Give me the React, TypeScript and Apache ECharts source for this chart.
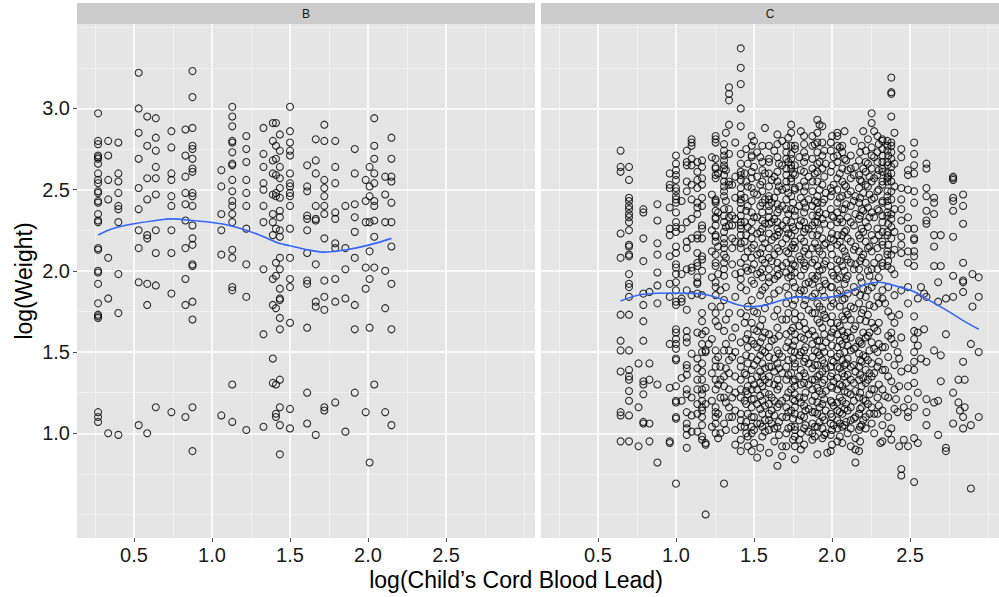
import { useEffect, useRef } from "react";
import * as echarts from "echarts";

// Facet labels and axis breaks
const panelNames = ["B", "C"];
const xMajor = [0.5, 1.0, 1.5, 2.0, 2.5];
const xMinor = [0.25, 0.75, 1.25, 1.75, 2.25, 2.75, 3.0];
const yMajor = [1.0, 1.5, 2.0, 2.5, 3.0];
const yMinor = [0.5, 0.75, 1.25, 1.75, 2.25, 2.75, 3.25, 3.5];
const xLimits = [0.135, 3.07];
const yLimits = [0.355, 3.52];

// Panel B: log(lead) columns and the log(weight) values observed in each
const panelBX = [0.27, 0.335, 0.4, 0.53, 0.585, 0.64, 0.74, 0.83, 0.875, 1.06, 1.13, 1.22, 1.33, 1.39, 1.41, 1.435, 1.5, 1.61, 1.665, 1.72, 1.79, 1.855, 1.915, 1.985, 2.01, 2.04, 2.11, 2.15];
const panelBY = [
  [2.97, 2.8, 2.78, 2.71, 2.7, 2.69, 2.66, 2.6, 2.56, 2.54, 2.49, 2.48, 2.43, 2.42, 2.35, 2.31, 2.3, 2.14, 2.13, 2.0, 1.99, 1.92, 1.8, 1.73, 1.72, 1.71, 1.13, 1.1, 1.07],
  [2.8, 2.71, 2.56, 2.44, 2.08, 1.83, 1.0],
  [2.79, 2.6, 2.55, 2.48, 2.4, 2.38, 2.3, 1.98, 1.74, 0.99],
  [3.22, 3.0, 2.85, 2.69, 2.51, 2.38, 2.25, 2.14, 1.93, 1.05],
  [2.95, 2.77, 2.57, 2.44, 2.22, 2.2, 1.92, 1.79, 1.0],
  [2.94, 2.82, 2.74, 2.64, 2.57, 2.47, 2.25, 2.11, 1.91, 1.16],
  [2.86, 2.76, 2.6, 2.56, 2.46, 2.4, 2.25, 2.11, 1.86, 1.13],
  [2.87, 2.71, 2.58, 2.48, 2.41, 2.31, 2.14, 1.95, 1.79, 1.1],
  [3.23, 3.07, 2.88, 2.77, 2.75, 2.69, 2.63, 2.61, 2.48, 2.46, 2.4, 2.28, 2.2, 2.16, 2.04, 2.03, 1.81, 1.7, 1.16, 0.89],
  [2.62, 2.52, 2.35, 2.25, 2.1, 1.11],
  [3.01, 2.95, 2.89, 2.8, 2.79, 2.73, 2.66, 2.65, 2.56, 2.49, 2.43, 2.4, 2.35, 2.3, 2.13, 2.08, 1.9, 1.88, 1.3, 1.07],
  [2.83, 2.75, 2.67, 2.56, 2.48, 2.4, 2.26, 2.04, 1.84, 1.02],
  [2.88, 2.72, 2.64, 2.54, 2.5, 2.4, 2.3, 2.01, 1.61, 1.04],
  [2.91, 2.8, 2.68, 2.6, 2.47, 2.35, 2.3, 2.22, 1.95, 1.79, 1.46, 1.31],
  [2.91, 2.77, 2.69, 2.59, 2.48, 2.46, 2.26, 2.05, 1.97, 1.77, 1.3, 1.12, 1.1],
  [2.84, 2.74, 2.64, 2.57, 2.51, 2.45, 2.37, 2.33, 2.25, 2.21, 2.08, 2.01, 1.89, 1.83, 1.82, 1.71, 1.64, 1.33, 1.16, 1.05, 0.87],
  [3.01, 2.86, 2.79, 2.74, 2.71, 2.6, 2.54, 2.52, 2.48, 2.46, 2.4, 2.26, 2.08, 1.95, 1.9, 1.68, 1.15, 1.03],
  [2.65, 2.52, 2.49, 2.34, 2.32, 2.25, 2.11, 1.94, 1.92, 1.65, 1.25, 1.06],
  [2.81, 2.68, 2.6, 2.4, 2.32, 2.31, 2.04, 1.81, 1.78, 0.99],
  [2.9, 2.8, 2.56, 2.51, 2.46, 2.4, 2.35, 2.2, 1.94, 1.84, 1.76, 1.16, 1.14],
  [2.8, 2.64, 2.54, 2.36, 2.32, 2.17, 2.14, 1.95, 1.81, 1.19],
  [2.4, 2.14, 2.01, 1.83, 1.01],
  [2.75, 2.6, 2.41, 2.33, 2.24, 2.08, 1.79, 1.64, 1.25],
  [2.56, 2.43, 2.3, 2.02, 1.89, 1.13],
  [2.64, 2.52, 2.46, 2.3, 2.12, 1.95, 1.65, 0.82],
  [2.94, 2.77, 2.69, 2.6, 2.54, 2.43, 2.4, 2.31, 2.21, 2.02, 1.3],
  [2.58, 2.47, 2.3, 2.0, 1.77, 1.13],
  [2.82, 2.69, 2.58, 2.55, 2.42, 2.3, 2.15, 1.92, 1.64, 1.05],
];

// Panel C: log(lead) columns and the log(weight) values observed in each
const panelCX = [
  0.645, 0.699, 0.76, 0.791, 0.83, 0.881, 0.96, 1.0, 1.036, 1.069, 1.1, 1.137, 1.167, 1.19, 1.21, 1.254, 1.285, 1.308, 1.34, 1.36,
  1.415, 1.44, 1.46, 1.485, 1.52, 1.553, 1.596, 1.613, 1.65, 1.68, 1.707, 1.738, 1.762, 1.79, 1.821, 1.85, 1.874, 1.906, 1.938, 1.96,
  1.97, 1.992, 2.01, 2.034, 2.066, 2.09, 2.12, 2.15, 2.173, 2.19, 2.216, 2.24, 2.254, 2.291, 2.31, 2.323, 2.34, 2.355, 2.38, 2.41,
  2.42, 2.43, 2.444, 2.46, 2.487, 2.526, 2.55, 2.57, 2.59, 2.605, 2.654, 2.68, 2.697, 2.73, 2.776, 2.81, 2.82, 2.84, 2.85, 2.89,
  2.9, 2.94,
];
const panelCY = [
  [2.74, 2.64, 2.61, 2.23, 2.08, 1.73, 1.57, 1.51, 1.38, 1.13, 1.11, 0.95],
  [2.64, 2.56, 2.45, 2.43, 2.4, 2.38, 2.35, 2.33, 2.3, 2.25, 2.16, 2.15, 2.1, 2.09, 1.98, 1.92, 1.9, 1.84, 1.73, 1.51, 1.39, 1.35, 1.33, 1.26, 1.2, 1.11, 0.95],
  [1.43, 1.16, 0.92],
  [2.38, 2.36, 2.2, 2.06, 1.86, 1.79, 1.69, 1.57, 1.32, 1.3, 1.24, 1.07, 1.06],
  [1.87, 1.43, 1.33, 1.06, 0.95],
  [2.41, 2.31, 2.17, 2.1, 1.99, 1.91, 1.8, 1.3, 0.82],
  [2.6, 2.53, 2.51, 2.39, 2.26, 2.22, 2.09, 1.92, 1.84, 1.55, 1.28, 0.95, 0.94],
  [2.71, 2.66, 2.62, 2.59, 2.56, 2.51, 2.49, 2.46, 2.44, 2.42, 2.36, 2.3, 2.27, 2.24, 2.15, 2.11, 2.04, 2.02, 1.98, 1.93, 1.88, 1.81, 1.79, 1.64, 1.62, 1.58, 1.55, 1.52, 1.46, 1.45, 1.29, 1.2, 1.19, 1.1, 1.09, 0.69],
  [2.43, 2.26, 1.98, 1.83, 1.81, 1.34, 1.2],
  [2.74, 2.67, 2.65, 2.55, 2.49, 2.3, 2.18, 2.14, 2.01, 1.88, 1.76, 1.63, 1.59, 1.56, 1.42, 1.4, 1.36, 1.27, 1.24, 1.13, 1.06, 1.03, 0.99, 0.91],
  [2.81, 2.79, 2.77, 2.69, 2.65, 2.53, 2.44, 2.32, 2.2, 2.02, 2.0, 1.85, 1.49, 1.22, 1.11, 1.01],
  [2.67, 2.61, 2.56, 2.51, 2.42, 2.39, 2.35, 2.22, 2.2, 2.11, 2.05, 2.03, 1.96, 1.93, 1.92, 1.86, 1.62, 1.46, 1.4, 1.33, 1.27, 1.18, 1.12, 1.01],
  [2.68, 2.64, 2.57, 2.53, 2.45, 2.4, 2.28, 2.26, 2.2, 2.09, 2.07, 2.0, 1.85, 1.74, 1.69, 1.61, 1.55, 1.5, 1.43, 1.38, 1.33, 1.27, 1.24, 1.2, 1.16, 1.14, 1.1, 1.05, 0.98, 0.96],
  [1.63, 1.51, 1.5, 1.28, 1.18, 0.94, 0.93, 0.5],
  [1.55],
  [2.83, 2.81, 2.79, 2.69, 2.64, 2.63, 2.59, 2.57, 2.44, 2.43, 2.42, 2.37, 2.33, 2.32, 2.28, 2.22, 2.21, 2.18, 2.1, 2.05, 2.03, 1.93, 1.9, 1.85, 1.74, 1.69, 1.51, 1.45, 1.41, 1.33, 1.27, 1.16, 1.13, 1.1, 1.06, 1.0],
  [1.88, 1.78, 1.41, 1.33, 1.22, 1.0],
  [2.78, 2.74, 2.71, 2.68, 2.65, 2.63, 2.59, 2.55, 2.52, 2.49, 2.46, 2.38, 2.34, 2.3, 2.24, 2.2, 2.17, 2.14, 2.1, 2.05, 2.01, 1.97, 1.82, 1.63, 1.51, 1.35, 1.29, 1.22, 1.06, 0.69],
  [3.13, 3.09, 3.05, 2.9, 2.72, 2.55, 2.53, 2.38, 2.33, 2.28, 1.74, 1.51, 1.45, 1.37, 1.27, 1.16, 1.1],
  [2.53, 2.34, 2.28, 2.2, 2.14, 2.04, 1.59, 1.47, 1.22, 1.1],
  [3.37, 3.25, 3.15, 3.0, 2.89, 2.72, 2.66, 2.61, 2.59, 2.56, 2.51, 2.47, 2.44, 2.42, 2.38, 2.34, 2.3, 2.28, 2.26, 2.22, 2.17, 2.14, 2.05, 1.99, 1.95, 1.9, 1.74, 1.56, 1.45, 1.41, 1.33, 1.27, 1.22, 1.12, 1.08, 1.04, 0.96, 0.89],
  [2.6, 2.45, 2.3, 2.18, 2.08, 1.68, 1.37, 1.2, 1.04],
  [2.66, 2.52, 2.4, 2.27, 2.12, 2.0, 1.78, 1.61, 1.53, 1.43, 1.29, 1.24, 1.12, 0.98, 0.92],
  [2.83, 2.77, 2.71, 2.7, 2.61, 2.57, 2.51, 2.43, 2.36, 2.3, 2.25, 2.2, 2.14, 2.08, 2.01, 1.94, 1.82, 1.68, 1.57, 1.47, 1.39, 1.33, 1.27, 1.21, 1.16, 1.1, 1.04, 1.0, 0.89],
  [2.73, 2.58, 2.47, 2.33, 2.23, 2.1, 1.98, 1.74, 1.63, 1.53, 1.45, 1.35, 1.27, 1.18, 1.06, 0.85],
  [2.77, 2.67, 2.62, 2.55, 2.49, 2.42, 2.36, 2.31, 2.26, 2.2, 2.14, 2.07, 2.01, 1.96, 1.88, 1.7, 1.59, 1.51, 1.43, 1.35, 1.29, 1.2, 1.12, 1.04, 0.98],
  [2.77, 2.69, 2.67, 2.6, 2.52, 2.46, 2.44, 2.4, 2.37, 2.33, 2.29, 2.23, 2.14, 2.08, 2.01, 1.96, 1.93, 1.82, 1.61, 1.53, 1.47, 1.41, 1.35, 1.31, 1.24, 1.18, 1.12, 1.08, 1.02, 0.88],
  [2.56, 2.42, 2.3, 2.19, 2.06, 1.57, 1.41, 1.22, 1.14, 1.06],
  [2.84, 2.78, 2.7, 2.61, 2.55, 2.49, 2.41, 2.36, 2.3, 2.26, 2.22, 2.14, 2.05, 2.01, 1.97, 1.76, 1.65, 1.51, 1.43, 1.33, 1.27, 1.16, 1.04, 0.8],
  [2.8, 2.65, 2.5, 2.4, 2.28, 2.17, 2.03, 1.7, 1.47, 1.37, 1.2, 1.1, 0.92, 0.86],
  [2.77, 2.73, 2.69, 2.63, 2.59, 2.55, 2.51, 2.44, 2.38, 2.31, 2.26, 2.2, 2.12, 2.05, 1.99, 1.9, 1.8, 1.7, 1.61, 1.53, 1.41, 1.33, 1.22, 1.16, 1.1, 1.0, 0.92],
  [2.9, 2.85, 2.77, 2.72, 2.69, 2.65, 2.63, 2.57, 2.55, 2.46, 2.38, 2.3, 2.22, 2.14, 2.07, 2.01, 1.97, 1.63, 1.51, 1.37, 1.27, 1.14, 1.04],
  [2.75, 2.77, 2.65, 2.59, 2.51, 2.5, 2.37, 2.34, 2.25, 2.18, 2.14, 2.03, 1.99, 1.9, 1.82, 1.74, 1.7, 1.61, 1.57, 1.5, 1.43, 1.41, 1.33, 1.29, 1.24, 1.2, 1.16, 1.12, 1.04, 1.02, 0.98, 0.92, 0.84],
  [2.7, 2.52, 2.4, 2.28, 2.09, 1.86, 1.66, 1.48, 1.35, 1.22, 1.08, 0.96],
  [2.83, 2.78, 2.73, 2.67, 2.61, 2.55, 2.49, 2.42, 2.36, 2.3, 2.24, 2.18, 2.12, 2.05, 2.01, 1.88, 1.79, 1.68, 1.58, 1.51, 1.44, 1.37, 1.31, 1.22, 1.17, 1.1, 1.03, 0.93],
  [2.58, 2.44, 2.26, 2.1, 1.93, 1.76, 1.61, 1.43, 1.3, 1.15, 1.01],
  [2.83, 2.77, 2.69, 2.63, 2.55, 2.49, 2.4, 2.34, 2.28, 2.22, 2.14, 2.05, 1.97, 1.92, 1.84, 1.74, 1.63, 1.55, 1.47, 1.4, 1.33, 1.27, 1.2, 1.13, 1.06, 1.0, 0.96],
  [2.93, 2.85, 2.79, 2.73, 2.66, 2.61, 2.55, 2.46, 2.42, 2.38, 2.34, 2.3, 2.22, 2.14, 2.03, 1.97, 1.8, 1.7, 1.57, 1.5, 1.42, 1.35, 1.28, 1.19, 1.12, 1.04, 0.87],
  [2.89, 2.79, 2.71, 2.63, 2.53, 2.42, 2.32, 2.2, 2.1, 2.01, 1.88, 1.76, 1.65, 1.53, 1.45, 1.38, 1.31, 1.24, 1.18, 1.1, 1.03, 0.97],
  [2.66, 2.48, 2.35, 2.17, 2.06, 1.92, 1.71, 1.56, 1.4, 1.26, 1.14, 1.0],
  [0.88],
  [2.79, 2.74, 2.61, 2.51, 2.46, 2.38, 2.28, 2.2, 2.14, 2.03, 1.9, 1.78, 1.68, 1.59, 1.49, 1.41, 1.35, 1.29, 1.2, 1.12, 1.06, 0.99, 0.89],
  [2.7, 2.53, 2.33, 2.19, 1.97, 1.8, 1.64, 1.44, 1.32, 1.17, 1.05],
  [2.85, 2.83, 2.77, 2.71, 2.67, 2.57, 2.5, 2.42, 2.36, 2.3, 2.22, 2.16, 2.07, 2.01, 1.95, 1.86, 1.68, 1.61, 1.53, 1.47, 1.41, 1.34, 1.27, 1.19, 1.14, 1.08, 1.03, 0.95],
  [2.77, 2.73, 2.63, 2.55, 2.46, 2.38, 2.3, 2.22, 2.14, 2.03, 1.82, 1.72, 1.63, 1.55, 1.45, 1.37, 1.29, 1.2, 1.12, 1.04, 0.94],
  [2.68, 2.52, 2.41, 2.25, 2.09, 1.95, 1.75, 1.58, 1.43, 1.31, 1.18, 1.07],
  [2.71, 2.63, 2.57, 2.49, 2.4, 2.3, 2.18, 2.05, 1.78, 1.7, 1.59, 1.51, 1.41, 1.33, 1.24, 1.16, 1.08, 1.03, 0.92],
  [2.64, 2.46, 2.35, 2.15, 2.04, 1.87, 1.66, 1.53, 1.38, 1.26, 1.1, 0.97, 0.9, 0.82],
  [2.68, 2.59, 2.51, 2.42, 2.32, 2.22, 2.12, 2.01, 1.8, 1.57, 1.49, 1.41, 1.33, 1.22, 1.12, 1.02, 0.89],
  [2.77, 2.55, 2.38, 2.26, 2.08, 1.93, 1.74, 1.55, 1.44, 1.29, 1.16, 1.05],
  [2.74, 2.67, 2.61, 2.53, 2.42, 2.3, 2.18, 2.05, 1.84, 1.69, 1.59, 1.47, 1.39, 1.31, 1.2, 1.1, 1.03],
  [2.58, 2.47, 2.33, 2.15, 1.97, 1.79, 1.62, 1.51, 1.37, 1.24, 1.12],
  [2.97, 2.91, 2.76, 2.71, 2.63, 2.55, 2.44, 2.36, 2.22, 2.12, 2.01, 1.9, 1.68, 1.56, 1.43, 1.35, 1.27, 1.16, 1.06],
  [2.83, 2.73, 2.67, 2.59, 2.49, 2.38, 2.26, 2.14, 2.01, 1.84, 1.63, 1.5, 1.41, 1.22, 1.12],
  [0.94],
  [2.81, 2.8, 2.75, 2.71, 2.67, 2.63, 2.61, 2.55, 2.53, 2.43, 2.42, 2.34, 2.3, 2.24, 2.18, 2.16, 2.05, 2.03, 1.88, 1.83, 1.53, 1.39, 1.27, 1.14, 1.05, 0.95],
  [1.8, 1.53, 1.39, 1.23],
  [2.8, 2.77, 2.74, 2.67, 2.65, 2.6, 2.57, 2.55, 2.49, 2.46, 2.43, 2.36, 2.34, 2.24, 2.22, 2.12, 2.1, 2.03],
  [3.19, 3.1, 3.09, 2.95, 2.79, 2.77, 2.73, 2.69, 2.64, 2.6, 2.55, 2.49, 2.44, 2.35, 2.32, 2.27, 2.2, 2.1, 2.01, 1.72, 1.62, 1.58, 1.32, 1.03, 0.96],
  [1.21],
  [1.5, 1.13],
  [1.73, 1.46, 1.29, 0.92],
  [2.75, 2.7, 2.51, 2.44, 2.38, 2.31, 2.21, 2.16, 2.11, 1.88, 1.59, 1.38, 0.78, 0.74],
  [1.16, 0.96],
  [2.62, 2.59, 2.5, 2.33, 2.26, 2.12, 2.05, 1.9, 1.8, 1.4, 1.29, 1.21, 1.13, 1.1, 0.92],
  [2.79, 2.72, 2.65, 2.6, 2.49, 2.42, 2.26, 2.2, 2.19, 2.12, 2.09, 2.03, 1.72, 1.63, 1.58, 1.5, 1.44, 1.39, 1.31, 1.16, 0.97, 0.7],
  [1.83, 1.62, 1.54, 1.25, 0.94],
  [1.9, 1.46],
  [1.86, 1.64],
  [2.66, 2.63, 2.51, 2.46, 2.37, 2.31, 2.29, 1.84, 1.44, 1.21, 1.13, 1.05],
  [2.45, 2.42, 2.35, 2.22, 2.15, 2.03, 1.51, 1.19],
  [1.93, 1.81, 1.2, 0.99],
  [2.22, 2.03, 1.48, 1.32],
  [1.83, 1.61, 0.91, 0.89],
  [2.58, 2.57, 2.56, 2.45, 2.43, 2.37, 2.21, 1.97, 1.84, 1.25, 1.06],
  [1.33, 1.19],
  [1.14],
  [2.47, 2.4, 2.29, 2.05, 1.94, 1.93, 1.87, 1.44, 1.1, 1.03],
  [1.33, 1.16],
  [1.55, 1.05, 0.66],
  [1.98, 1.78],
  [1.96, 1.84, 1.5, 1.1],
];

// Panel C: the crowded middle band, where columns sit close together
const panelCDenseX = [1.23, 1.27, 1.32, 1.38, 1.45, 1.5, 1.54, 1.57, 1.63, 1.66, 1.72, 1.75, 1.8, 1.83, 1.89, 1.92, 1.95, 2.0, 2.05, 2.08, 2.1, 2.14, 2.18, 2.2, 2.23, 2.27, 2.3, 2.36, 2.4];
const panelCDenseY = [
  [2.7, 2.47, 2.25, 2.12, 1.96, 1.78, 1.58, 1.37, 1.2, 1.04],
  [2.6, 2.36, 2.15, 1.98, 1.66, 1.47, 1.3, 1.12, 0.97],
  [2.85, 2.62, 2.43, 2.27, 2.08, 1.9, 1.7, 1.55, 1.4, 1.19, 1.02],
  [2.79, 2.58, 2.45, 2.32, 2.18, 1.98, 1.84, 1.65, 1.5, 1.35, 1.25, 1.14, 1.02, 0.93],
  [2.75, 2.55, 2.37, 2.22, 2.02, 1.88, 1.72, 1.58, 1.48, 1.36, 1.26, 1.18, 1.07, 1.0],
  [2.8, 2.64, 2.48, 2.33, 2.16, 2.04, 1.92, 1.75, 1.64, 1.55, 1.42, 1.3, 1.21, 1.1, 1.02, 0.94],
  [2.7, 2.53, 2.4, 2.24, 2.11, 1.99, 1.85, 1.66, 1.56, 1.48, 1.38, 1.31, 1.23, 1.15, 1.06, 0.91],
  [2.88, 2.6, 2.44, 2.29, 2.17, 2.05, 1.9, 1.77, 1.62, 1.5, 1.4, 1.33, 1.25, 1.17, 1.08, 1.01],
  [2.74, 2.58, 2.45, 2.32, 2.21, 2.1, 1.95, 1.86, 1.72, 1.58, 1.46, 1.38, 1.3, 1.2, 1.11, 1.03, 0.95],
  [2.66, 2.52, 2.38, 2.24, 2.12, 1.98, 1.88, 1.6, 1.49, 1.4, 1.29, 1.18, 1.07, 0.99],
  [2.82, 2.67, 2.48, 2.35, 2.23, 2.11, 1.96, 1.85, 1.74, 1.56, 1.45, 1.36, 1.25, 1.13, 1.03],
  [2.6, 2.42, 2.27, 2.16, 2.04, 1.93, 1.79, 1.65, 1.54, 1.46, 1.32, 1.21, 1.09, 0.96],
  [2.86, 2.62, 2.45, 2.31, 2.2, 2.07, 1.97, 1.88, 1.72, 1.59, 1.5, 1.39, 1.3, 1.19, 1.11, 1.0, 0.9],
  [2.7, 2.52, 2.39, 2.26, 2.14, 2.03, 1.92, 1.82, 1.64, 1.53, 1.46, 1.35, 1.25, 1.14, 1.05],
  [2.78, 2.6, 2.43, 2.3, 2.17, 2.07, 1.95, 1.86, 1.74, 1.6, 1.51, 1.42, 1.33, 1.23, 1.13, 1.04, 0.98],
  [2.9, 2.67, 2.5, 2.36, 2.25, 2.12, 2.0, 1.9, 1.78, 1.68, 1.57, 1.48, 1.36, 1.26, 1.16, 1.07],
  [2.74, 2.58, 2.44, 2.29, 2.16, 2.04, 1.94, 1.84, 1.73, 1.61, 1.5, 1.43, 1.33, 1.21, 1.08, 0.99],
  [2.83, 2.65, 2.49, 2.34, 2.23, 2.1, 1.99, 1.9, 1.82, 1.72, 1.62, 1.54, 1.45, 1.37, 1.28, 1.19, 1.1, 1.02, 0.93],
  [2.76, 2.6, 2.45, 2.32, 2.18, 2.06, 1.96, 1.88, 1.78, 1.66, 1.57, 1.49, 1.4, 1.3, 1.22, 1.13, 1.06, 0.98],
  [2.86, 2.69, 2.53, 2.38, 2.24, 2.12, 2.0, 1.92, 1.83, 1.7, 1.6, 1.5, 1.42, 1.35, 1.26, 1.15, 1.05],
  [2.62, 2.47, 2.33, 2.2, 2.07, 1.97, 1.86, 1.73, 1.62, 1.54, 1.46, 1.36, 1.25, 1.14, 1.0],
  [2.8, 2.59, 2.43, 2.28, 2.13, 2.01, 1.9, 1.77, 1.64, 1.52, 1.42, 1.31, 1.2, 1.09],
  [2.73, 2.56, 2.45, 2.34, 2.2, 2.06, 1.96, 1.85, 1.7, 1.56, 1.45, 1.36, 1.25, 1.15, 1.04, 0.95],
  [2.86, 2.63, 2.48, 2.37, 2.24, 2.1, 1.89, 1.76, 1.62, 1.48, 1.34, 1.21, 1.08],
  [2.81, 2.66, 2.52, 2.39, 2.27, 2.14, 2.0, 1.88, 1.73, 1.6, 1.45, 1.33, 1.18],
  [2.86, 2.7, 2.57, 2.45, 2.33, 2.19, 2.05, 1.93, 1.78, 1.65, 1.52, 1.37, 1.27, 1.12, 1.0],
  [2.78, 2.62, 2.5, 2.37, 2.22, 2.08, 1.96, 1.8, 1.68, 1.55, 1.44, 1.3, 1.17],
  [2.71, 2.58, 2.4, 2.29, 2.16, 2.06, 1.9, 1.75, 1.6, 1.47, 1.35, 1.22, 1.1, 1.0],
  [2.85, 2.66, 2.52, 2.38, 2.24, 2.13, 1.98, 1.85, 1.68, 1.55, 1.42, 1.27, 1.15],
];

// Loess fits drawn over each panel
const smoothBX = [0.27, 0.335, 0.4, 0.5, 0.64, 0.74, 0.875, 1.06, 1.22, 1.33, 1.43, 1.5, 1.61, 1.72, 1.86, 2.01, 2.15];
const smoothBY = [2.22, 2.25, 2.27, 2.29, 2.31, 2.32, 2.31, 2.29, 2.25, 2.21, 2.17, 2.155, 2.13, 2.115, 2.13, 2.16, 2.2];
const smoothCX = [0.645, 0.79, 1.0, 1.15, 1.21, 1.28, 1.4, 1.49, 1.575, 1.68, 1.79, 1.86, 2.0, 2.11, 2.195, 2.3, 2.43, 2.53, 2.62, 2.73, 2.83, 2.94];
const smoothCY = [1.815, 1.856, 1.864, 1.86, 1.85, 1.83, 1.79, 1.78, 1.79, 1.82, 1.84, 1.83, 1.84, 1.87, 1.91, 1.93, 1.9, 1.87, 1.82, 1.76, 1.7, 1.64];

const FONT = "'Liberation Sans', Arial, Helvetica, sans-serif";
const PANEL_TOP = 24;
const PANEL_H = 514;
const PANEL_W = 458;
const PANEL_LEFT = [77, 541];

function toPoints(xs: number[], ys: number[][]) {
  const out: number[][] = [];
  xs.forEach((x, i) => ys[i].forEach((y) => out.push([x, y])));
  return out;
}

export default function App() {
  const ref = useRef<HTMLDivElement>(null);

  useEffect(() => {
    document.body.style.margin = "0";
    if (!ref.current) return;
    const chart = echarts.init(ref.current, undefined, { renderer: "svg" });

    const minorStyle = { color: "#F2F2F2", width: 0.8, type: "solid" as const };
    const majorStyle = { color: "#FFFFFF", width: 1.6, type: "solid" as const };

    const gridLines = (idx: number) => ({
      type: "line" as const,
      xAxisIndex: idx,
      yAxisIndex: idx,
      data: [],
      silent: true,
      z: 1,
      markLine: {
        silent: true,
        z: 1,
        symbol: ["none", "none"],
        label: { show: false },
        emphasis: { disabled: true },
        data: [
          ...xMinor.map((v) => ({ xAxis: v, lineStyle: minorStyle })),
          ...yMinor.map((v) => ({ yAxis: v, lineStyle: minorStyle })),
          ...xMajor.map((v) => ({ xAxis: v, lineStyle: majorStyle })),
          ...yMajor.map((v) => ({ yAxis: v, lineStyle: majorStyle })),
        ],
      },
    });

    const scatter = (idx: number, pts: number[][]) => ({
      type: "scatter" as const,
      xAxisIndex: idx,
      yAxisIndex: idx,
      data: pts,
      symbol: "circle",
      symbolSize: 7,
      z: 3,
      silent: true,
      itemStyle: { color: "rgba(0,0,0,0)", borderColor: "#000000", borderWidth: 1.1 },
    });

    const smooth = (idx: number, xs: number[], ys: number[]) => ({
      type: "line" as const,
      xAxisIndex: idx,
      yAxisIndex: idx,
      data: xs.map((x, i) => [x, ys[i]]),
      smooth: 0.35,
      showSymbol: false,
      silent: true,
      z: 4,
      lineStyle: { color: "#3366FF", width: 1.6 },
    });

    const xAxis = (idx: number) => ({
      type: "value" as const,
      gridIndex: idx,
      min: xLimits[0],
      max: xLimits[1],
      axisLine: { show: false },
      splitLine: { show: false },
      axisTick: { show: true, customValues: xMajor, length: 4, lineStyle: { color: "#4D4D4D", width: 1 } },
      axisLabel: {
        customValues: xMajor,
        formatter: (v: number) => v.toFixed(1),
        fontSize: 20,
        fontFamily: FONT,
        color: "#1A1A1A",
        margin: 7,
      },
    });

    const yAxis = (idx: number) => ({
      type: "value" as const,
      gridIndex: idx,
      min: yLimits[0],
      max: yLimits[1],
      axisLine: { show: false },
      splitLine: { show: false },
      axisTick: idx === 0
        ? { show: true, customValues: yMajor, length: 4, lineStyle: { color: "#4D4D4D", width: 1 } }
        : { show: false },
      axisLabel: idx === 0
        ? {
            customValues: yMajor,
            formatter: (v: number) => v.toFixed(1),
            fontSize: 20,
            fontFamily: FONT,
            color: "#1A1A1A",
            margin: 7,
          }
        : { show: false },
    });

    const strips = panelNames.flatMap((name, i) => [
      {
        type: "rect",
        shape: { x: PANEL_LEFT[i], y: 3, width: PANEL_W, height: PANEL_TOP - 3 },
        style: { fill: "#CCCCCC" },
        silent: true,
      },
      {
        type: "text",
        x: PANEL_LEFT[i] + PANEL_W / 2,
        y: (PANEL_TOP + 3) / 2,
        style: { text: name, fontSize: 12, fontFamily: FONT, fill: "#1A1A1A", align: "center", verticalAlign: "middle" },
        silent: true,
      },
    ]);

    chart.setOption({
      animation: false,
      backgroundColor: "#FFFFFF",
      grid: PANEL_LEFT.map((left) => ({
        left,
        top: PANEL_TOP,
        width: PANEL_W,
        height: PANEL_H,
        show: true,
        backgroundColor: "#E5E5E5",
        borderWidth: 0,
        containLabel: false,
      })),
      xAxis: [xAxis(0), xAxis(1)],
      yAxis: [yAxis(0), yAxis(1)],
      series: [
        gridLines(0),
        gridLines(1),
        scatter(0, toPoints(panelBX, panelBY)),
        scatter(1, [...toPoints(panelCX, panelCY), ...toPoints(panelCDenseX, panelCDenseY)]),
        smooth(0, smoothBX, smoothBY),
        smooth(1, smoothCX, smoothCY),
      ],
      graphic: [
        ...strips,
        {
          type: "text",
          x: 516,
          y: 580,
          style: {
            text: "log(Child\u2019s Cord Blood Lead)",
            fontSize: 23,
            fontFamily: FONT,
            fill: "#000000",
            align: "center",
            verticalAlign: "middle",
          },
          silent: true,
        },
        {
          type: "text",
          x: 24,
          y: PANEL_TOP + PANEL_H / 2,
          rotation: Math.PI / 2,
          style: {
            text: "log(Weight)",
            fontSize: 23,
            fontFamily: FONT,
            fill: "#000000",
            align: "center",
            verticalAlign: "middle",
          },
          silent: true,
        },
      ],
    });

    return () => chart.dispose();
  }, []);

  return <div ref={ref} style={{ width: 999, height: 597 }} />;
}
